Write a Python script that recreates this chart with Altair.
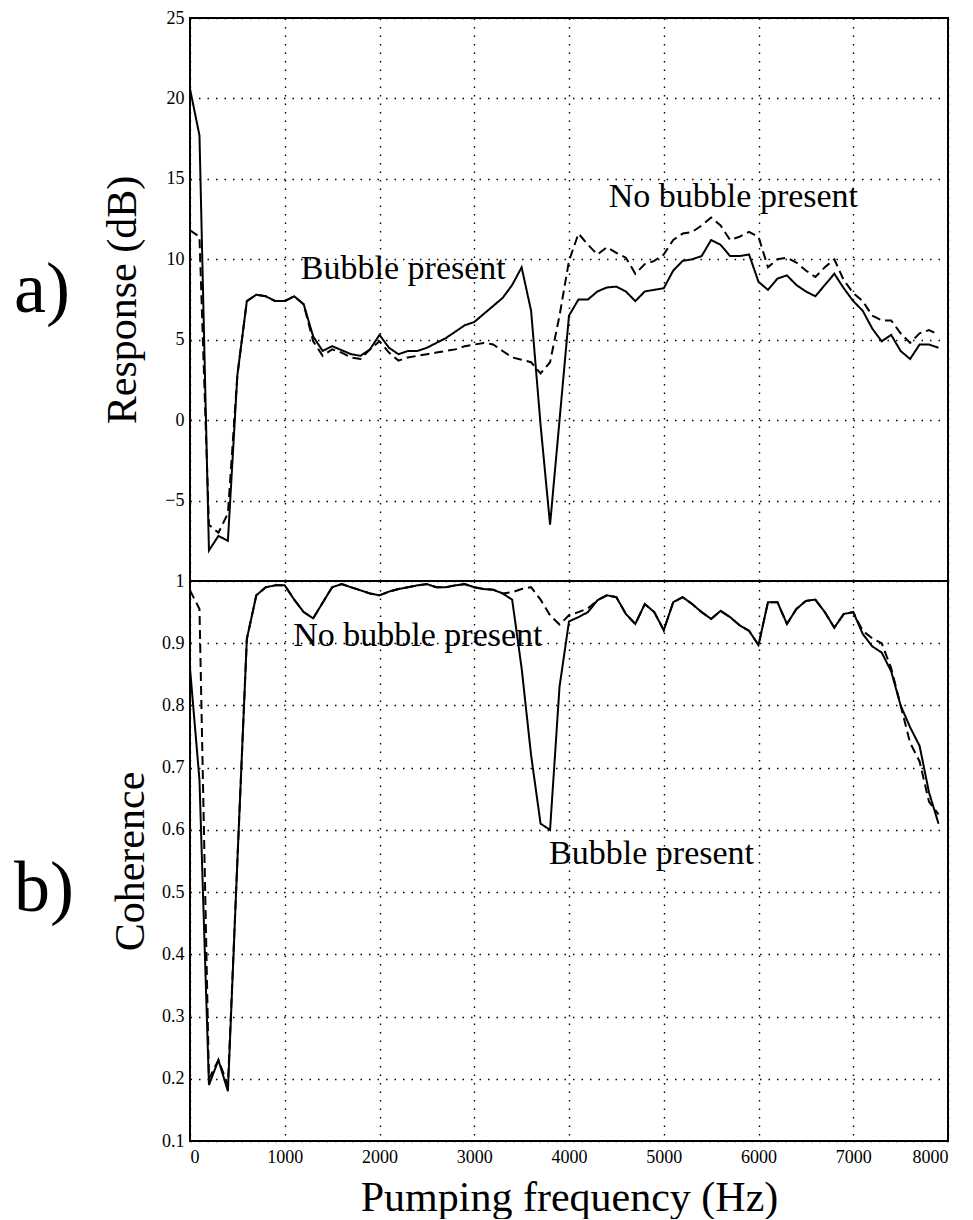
import altair as alt
import pandas as pd

# ---------------- data ----------------
freq = [0, 100, 200, 300, 400, 500, 600, 700, 800, 900,
        1000, 1100, 1200, 1300, 1400, 1500, 1600, 1700, 1800, 1900,
        2000, 2100, 2200, 2300, 2400, 2500, 2600, 2700, 2800, 2900,
        3000, 3100, 3200, 3300, 3400, 3500, 3600, 3700, 3800, 3900,
        4000, 4100, 4200, 4300, 4400, 4500, 4600, 4700, 4800, 4900,
        5000, 5100, 5200, 5300, 5400, 5500, 5600, 5700, 5800, 5900,
        6000, 6100, 6200, 6300, 6400, 6500, 6600, 6700, 6800, 6900,
        7000, 7100, 7200, 7300, 7400, 7500, 7600, 7700, 7800, 7900]

# Response (dB), bubble present (solid)
resp_bubble = [20.6, 17.7, -8.1, -7.2, -7.5, 2.8, 7.4, 7.8, 7.7, 7.4,
               7.4, 7.7, 7.2, 5.2, 4.3, 4.6, 4.35, 4.1, 4.0, 4.4,
               5.3, 4.5, 4.1, 4.3, 4.3, 4.5, 4.8, 5.1, 5.5, 5.9,
               6.1, 6.6, 7.1, 7.6, 8.4, 9.5, 6.8, -0.3, -6.5, 0.0,
               6.5, 7.5, 7.5, 8.0, 8.25, 8.3, 8.0, 7.4, 8.0, 8.1,
               8.2, 9.3, 9.9, 10.0, 10.2, 11.2, 10.9, 10.2, 10.2, 10.3,
               8.6, 8.1, 8.8, 9.0, 8.4, 8.0, 7.7, 8.4, 9.1, 8.2,
               7.4, 6.8, 5.7, 4.9, 5.3, 4.3, 3.8, 4.7, 4.7, 4.5]

# Response (dB), no bubble present (dashed)
resp_nobubble = [11.8, 11.4, -6.5, -7.0, -5.8, 2.8, 7.4, 7.8, 7.7, 7.4,
                 7.4, 7.7, 7.2, 4.9, 4.0, 4.4, 4.2, 3.9, 3.8, 4.4,
                 4.9, 4.2, 3.7, 3.9, 4.0, 4.1, 4.2, 4.3, 4.4, 4.6,
                 4.7, 4.8, 4.7, 4.3, 3.9, 3.75, 3.6, 2.9, 3.6, 6.5,
                 9.9, 11.6, 10.9, 10.3, 10.75, 10.4, 10.1, 9.1, 9.7, 9.9,
                 10.3, 11.2, 11.6, 11.7, 12.1, 12.6, 12.1, 11.2, 11.4, 11.7,
                 11.4, 9.5, 10.0, 10.1, 9.8, 9.3, 8.9, 9.5, 10.0, 8.7,
                 7.9, 7.4, 6.5, 6.2, 6.2, 5.4, 4.8, 5.4, 5.6, 5.3]

# Coherence, bubble present (solid)
coh_bubble = [0.86, 0.68, 0.19, 0.23, 0.18, 0.55, 0.907, 0.977, 0.99, 0.993,
              0.993, 0.97, 0.95, 0.94, 0.965, 0.99, 0.995, 0.99, 0.985, 0.98,
              0.977, 0.983, 0.987, 0.99, 0.993, 0.995, 0.99, 0.99, 0.993, 0.995,
              0.99, 0.987, 0.986, 0.98, 0.97, 0.86, 0.72, 0.61, 0.60, 0.83,
              0.935, 0.942, 0.95, 0.969, 0.977, 0.974, 0.947, 0.931, 0.963, 0.95,
              0.921, 0.966, 0.974, 0.963, 0.95, 0.939, 0.952, 0.942, 0.929, 0.92,
              0.897, 0.966, 0.966, 0.931, 0.955, 0.968, 0.97, 0.95, 0.925, 0.947,
              0.95, 0.915, 0.895, 0.885, 0.855, 0.80, 0.765, 0.735, 0.66, 0.61]

# Coherence, no bubble present (dashed)
coh_nobubble = [0.985, 0.955, 0.20, 0.23, 0.19, 0.55, 0.907, 0.977, 0.99, 0.993,
                0.993, 0.97, 0.95, 0.94, 0.965, 0.99, 0.995, 0.99, 0.985, 0.98,
                0.977, 0.983, 0.987, 0.99, 0.993, 0.995, 0.99, 0.99, 0.993, 0.995,
                0.99, 0.987, 0.986, 0.98, 0.982, 0.987, 0.99, 0.97, 0.945, 0.93,
                0.945, 0.95, 0.956, 0.969, 0.977, 0.974, 0.947, 0.931, 0.963, 0.95,
                0.921, 0.966, 0.974, 0.963, 0.95, 0.939, 0.952, 0.942, 0.929, 0.92,
                0.897, 0.966, 0.966, 0.931, 0.955, 0.968, 0.97, 0.95, 0.925, 0.947,
                0.95, 0.92, 0.908, 0.90, 0.86, 0.80, 0.74, 0.71, 0.645, 0.625]

series_names = ["Bubble present", "No bubble present"]

x_ticks = [0, 1000, 2000, 3000, 4000, 5000, 6000, 7000, 8000]
resp_ticks = [-5, 0, 5, 10, 15, 20, 25]
coh_ticks = [0.1, 0.2, 0.3, 0.4, 0.5, 0.6, 0.7, 0.8, 0.9, 1.0]

# annotation texts, positioned in data coordinates
ann_top_text = ["Bubble present", "No bubble present"]
ann_top_freq = [1170, 4420]
ann_top_val = [8.75, 13.25]
ann_bot_text = ["No bubble present", "Bubble present"]
ann_bot_freq = [1090, 3790]
ann_bot_val = [0.8955, 0.545]

FONT = "Liberation Serif"


def long_df(a, b):
    n = len(freq)
    return pd.DataFrame({
        "freq": freq + freq,
        "value": a + b,
        "series": [series_names[0]] * n + [series_names[1]] * n,
    })


resp_df = long_df(resp_bubble, resp_nobubble)
coh_df = long_df(coh_bubble, coh_nobubble)
ann_top_df = pd.DataFrame({"t": ann_top_text, "freq": ann_top_freq, "value": ann_top_val})
ann_bot_df = pd.DataFrame({"t": ann_bot_text, "freq": ann_bot_freq, "value": ann_bot_val})

dash = alt.StrokeDash("series:N",
                      scale=alt.Scale(domain=series_names, range=[[1, 0], [9, 5]]),
                      legend=None)

x_top = alt.X("freq:Q", scale=alt.Scale(domain=[0, 8000], nice=False),
              axis=alt.Axis(values=x_ticks, labels=False, ticks=False, title=None,
                            grid=True, domain=False))
x_bot = alt.X("freq:Q", scale=alt.Scale(domain=[0, 8000], nice=False),
              axis=alt.Axis(values=x_ticks, format="d", title="Pumping frequency (Hz)",
                            grid=True, domain=False, labelPadding=7, titlePadding=11))

y_top = alt.Y("value:Q", scale=alt.Scale(domain=[-10, 25], nice=False),
              axis=alt.Axis(values=resp_ticks, title="Response (dB)", grid=True,
                            domain=False, titlePadding=20))
y_bot = alt.Y("value:Q", scale=alt.Scale(domain=[0.1, 1.0], nice=False),
              axis=alt.Axis(values=coh_ticks, format=".1~f", title="Coherence", grid=True,
                            domain=False, titlePadding=9))

W = 758

top_lines = alt.Chart(resp_df).mark_line(color="black", strokeWidth=2, clip=True).encode(
    x=x_top, y=y_top, strokeDash=dash, detail="series:N")
top_text = alt.Chart(ann_top_df).mark_text(font=FONT, fontSize=34, align="left",
                                           baseline="alphabetic", color="black").encode(
    x="freq:Q", y="value:Q", text="t:N")
top_label = alt.Chart(pd.DataFrame({"t": ["a)"]})).mark_text(
    font=FONT, fontSize=72, align="left", baseline="alphabetic", color="black").encode(
    x=alt.value(-176), y=alt.value(294), text="t:N")
top = alt.layer(top_lines, top_text, top_label).properties(width=W, height=563)

bot_lines = alt.Chart(coh_df).mark_line(color="black", strokeWidth=2, clip=True).encode(
    x=x_bot, y=y_bot, strokeDash=dash, detail="series:N")
bot_text = alt.Chart(ann_bot_df).mark_text(font=FONT, fontSize=34, align="left",
                                           baseline="alphabetic", color="black").encode(
    x="freq:Q", y="value:Q", text="t:N")
bot_label = alt.Chart(pd.DataFrame({"t": ["b)"]})).mark_text(
    font=FONT, fontSize=72, align="left", baseline="alphabetic", color="black").encode(
    x=alt.value(-176), y=alt.value(330), text="t:N")
bottom = alt.layer(bot_lines, bot_text, bot_label).properties(width=W, height=560)

chart = alt.vconcat(top, bottom, spacing=0, bounds="flush").properties(
    padding={"left": 5, "top": 0, "right": 5, "bottom": 0}
).configure(font=FONT, background="white").configure_view(
    stroke="black", strokeWidth=2
).configure_axis(
    labelFont=FONT, labelFontSize=18, labelColor="black", tickSize=0, labelPadding=6,
    gridColor="black", gridDash=[1.5, 7], gridWidth=1.4, gridOpacity=1,
    titleFont=FONT, titleFontSize=42, titleFontWeight="normal", titleColor="black"
)

chart.save("out.html", embed_options={"renderer": "svg", "actions": False})
